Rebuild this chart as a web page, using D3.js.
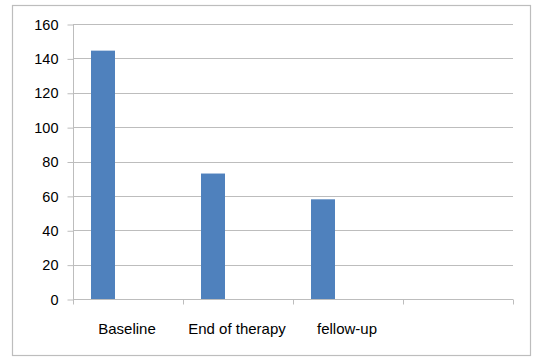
<!DOCTYPE html>
<html><head><meta charset="utf-8">
<script src="https://cdn.jsdelivr.net/npm/d3@7"></script>
<style>body{margin:0;background:#fff}svg{display:block}</style>
</head><body>
<script>
const categories = ["Baseline", "End of therapy", "fellow-up", ""];
const values = [144.5, 73, 58, null];
const yTicks = [0, 20, 40, 60, 80, 100, 120, 140, 160];

(function () {
const W = 536, H = 363;
const svg = d3.select("body").append("svg").attr("width", W).attr("height", H);
svg.append("rect").attr("x", 12.5).attr("y", 5.5).attr("width", 518).attr("height", 350)
  .attr("fill", "#fff").attr("stroke", "#bdbdbd").attr("stroke-width", 1.2);

const pL = 73, pR = 513, pT = 24, pB = 299;
const x = d3.scaleBand().domain(categories.map((d, i) => i)).range([pL, pR]).padding(0);
const y = d3.scaleLinear().domain([0, 160]).range([pB, pT]);
const font = "Liberation Sans, Arial, sans-serif";

// gridlines
svg.append("g").selectAll("line").data(yTicks.slice(1)).join("line")
  .attr("x1", pL).attr("x2", pR)
  .attr("y1", d => Math.round(y(d)) + 0.5).attr("y2", d => Math.round(y(d)) + 0.5)
  .attr("stroke", "#bdbdbd").attr("stroke-width", 1);

// y axis
const yAxis = svg.append("g").attr("transform", `translate(${pL + 0.5},0.5)`)
  .call(d3.axisLeft(y).tickValues(yTicks).tickSize(6).tickPadding(9));
yAxis.select(".domain").attr("stroke", "#bdbdbd").attr("d", `M0,${pT}V${pB}`);
yAxis.selectAll(".tick line").attr("stroke", "#bdbdbd");
yAxis.selectAll(".tick text").attr("font-family", font).attr("font-size", 14.5).attr("fill", "#000");

// bars
const bw = 24, off = 18;
svg.append("g").selectAll("rect").data(values.map((v, i) => ({v, i})).filter(d => d.v != null)).join("rect")
  .attr("x", d => x(d.i) + off).attr("width", bw)
  .attr("y", d => y(d.v)).attr("height", d => y(0) - y(d.v))
  .attr("fill", "#4f81bd");

// x axis
const xAxis = svg.append("g").attr("transform", `translate(0,${pB + 0.5})`);
xAxis.append("line").attr("x1", pL).attr("x2", pR).attr("stroke", "#bdbdbd");
xAxis.selectAll("line.t").data(d3.range(categories.length + 1)).join("line").attr("class", "t")
  .attr("x1", i => Math.round(pL + i * x.bandwidth()) + 0.5).attr("x2", i => Math.round(pL + i * x.bandwidth()) + 0.5)
  .attr("y1", 0).attr("y2", 5).attr("stroke", "#bdbdbd");
xAxis.selectAll("text").data(categories).join("text")
  .attr("x", (d, i) => x(i) + x.bandwidth() / 2 - 1).attr("y", 34.5)
  .attr("text-anchor", "middle").attr("font-family", font).attr("font-size", 15).attr("fill", "#000")
  .text(d => d);
})();
</script>
</body></html>
